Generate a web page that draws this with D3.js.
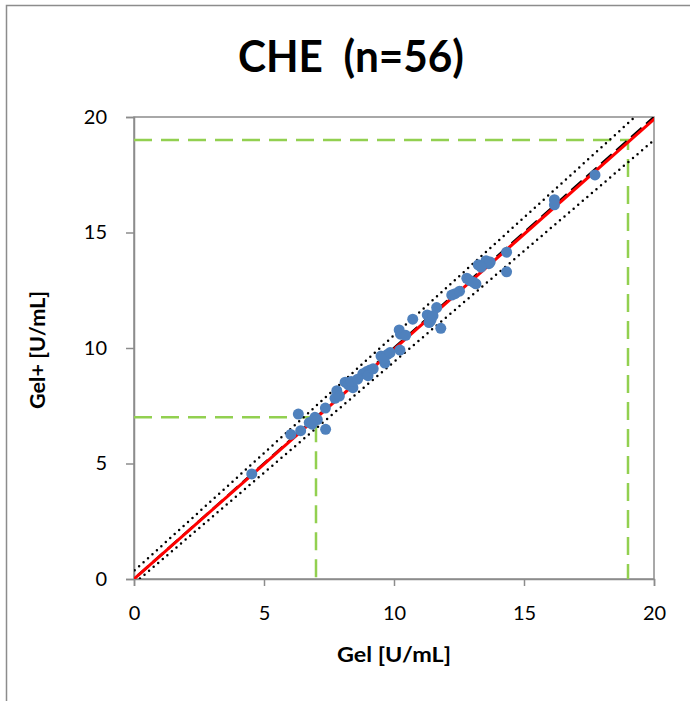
<!DOCTYPE html>
<html>
<head>
<meta charset="utf-8">
<script src="https://cdn.jsdelivr.net/npm/d3@7"></script>
<style>
  body { margin: 0; background: white; }
  text { font-family: Lato, "Open Sans", sans-serif; }
</style>
</head>
<body>
<div id="chart"></div>
<script>
// measured values (Gel vs Gel+)
const gel = [4.53, 6.03, 6.41, 6.32, 6.74, 6.96, 7.05, 7.37, 7.36, 7.73, 7.8, 7.9, 8.12, 8.25,
  8.42, 8.35, 8.8, 8.95, 9.08, 9.0, 9.2, 9.5, 9.65, 9.75, 9.6, 10.2, 10.25, 10.45, 10.23, 10.72,
  11.28, 11.42, 11.35, 11.64, 11.8, 12.22, 12.35, 12.52, 12.8, 12.92, 13.15, 13.05, 13.24, 13.54,
  13.65, 13.7, 14.33, 14.33, 16.17, 16.17, 17.73, 8.6, 9.85, 11.5, 6.85, 13.35];
const gelPlus = [4.55, 6.26, 6.42, 7.14, 6.77, 7.0, 6.9, 6.48, 7.4, 7.82, 8.15, 7.92, 8.52, 8.4,
  8.28, 8.55, 8.88, 8.98, 9.05, 8.8, 9.1, 9.65, 9.35, 9.72, 9.55, 10.78, 10.6, 10.55, 9.91, 11.25,
  11.43, 11.2, 11.1, 11.75, 10.85, 12.29, 12.35, 12.46, 13.02, 12.92, 12.78, 12.85, 13.6, 13.78,
  13.65, 13.72, 14.15, 13.3, 16.42, 16.2, 17.49, 8.65, 9.8, 11.4, 6.7, 13.5];

// fitted / reference lines: y = slope * x + intercept
const lineNames = ['upper', 'lower', 'identity', 'regression'];
const slopes = [1.02, 0.96, 1, 0.995];
const intercepts = [0.35, -0.2, 0, 0];

const refLevels = [7, 19];
const ticks = [0, 5, 10, 15, 20];

const width = 690, height = 701;
const margin = { left: 134, top: 117, right: 36, bottom: 122 };

const svg = d3.select('#chart').append('svg')
  .attr('width', width).attr('height', height);

// outer frame
svg.append('path')
  .attr('d', 'M6.5,701V5.5H690')
  .attr('fill', 'none').attr('stroke', '#8c8c8c').attr('stroke-width', 1.5);

const x = d3.scaleLinear().domain([0, 20]).range([margin.left, width - margin.right]);
const y = d3.scaleLinear().domain([0, 20]).range([height - margin.bottom, margin.top]);

svg.append('text')
  .attr('x', 351).attr('y', 72)
  .attr('text-anchor', 'middle')
  .attr('textLength', 226)
  .attr('lengthAdjust', 'spacingAndGlyphs')
  .style('font-size', '44px').style('font-weight', 'bold')
  .text('CHE\u00a0\u00a0(n=56)');

svg.append('clipPath').attr('id', 'plot')
  .append('rect')
  .attr('x', x(0)).attr('y', y(20))
  .attr('width', x(20) - x(0)).attr('height', y(0) - y(20));

// plot border
svg.append('rect')
  .attr('x', x(0)).attr('y', y(20))
  .attr('width', x(20) - x(0)).attr('height', y(0) - y(20))
  .attr('fill', 'none').attr('stroke', '#8c8c8c').attr('stroke-width', 1.5);

const xAxis = svg.append('g')
  .attr('transform', 'translate(0,' + y(0) + ')')
  .call(d3.axisBottom(x).tickValues(ticks).tickSize(7).tickPadding(20));
const yAxis = svg.append('g')
  .attr('transform', 'translate(' + x(0) + ',0)')
  .call(d3.axisLeft(y).tickValues(ticks).tickSize(8).tickPadding(19));

[xAxis, yAxis].forEach(function (g) {
  g.select('.domain').attr('stroke', '#8c8c8c').attr('stroke-width', 1.5);
  g.selectAll('.tick line').attr('stroke', '#8c8c8c').attr('stroke-width', 1.5);
  g.selectAll('.tick text')
    .attr('fill', '#000')
    .style('font-size', '20px')
    .style('font-family', 'Lato, "Open Sans", sans-serif');
});

svg.append('text')
  .attr('x', 394).attr('y', 662)
  .attr('text-anchor', 'middle')
  .attr('textLength', 114)
  .attr('lengthAdjust', 'spacingAndGlyphs')
  .style('font-size', '21px').style('font-weight', 'bold')
  .text('Gel [U/mL]');

svg.append('text')
  .attr('transform', 'translate(45,350) rotate(-90)')
  .attr('text-anchor', 'middle')
  .attr('textLength', 118)
  .attr('lengthAdjust', 'spacingAndGlyphs')
  .style('font-size', '21px').style('font-weight', 'bold')
  .text('Gel+ [U/mL]');

const plot = svg.append('g').attr('clip-path', 'url(#plot)');

// green guide lines
const green = plot.append('g');
refLevels.forEach(function (v) {
  green.append('path')
    .attr('d', d3.line()([[x(0), y(v)], [x(v), y(v)], [x(v), y(0)]]))
    .attr('fill', 'none')
    .attr('stroke', '#92d050')
    .attr('stroke-width', 2.5)
    .attr('stroke-dasharray', '18,9');
});

const lineStyles = {
  upper: { stroke: '#000', width: 2.5, dash: '0,6', cap: 'round' },
  lower: { stroke: '#000', width: 2.5, dash: '0,6', cap: 'round' },
  identity: { stroke: '#000', width: 2.5, dash: '14,6', cap: 'butt' },
  regression: { stroke: '#ff0000', width: 3, dash: null, cap: 'butt' }
};

const lineData = lineNames.map(function (n, i) {
  return { name: n, slope: slopes[i], intercept: intercepts[i] };
});

plot.selectAll('.fit')
  .data(lineData)
  .enter()
  .append('line')
  .attr('class', 'fit')
  .attr('x1', x(-1)).attr('y1', function (d) { return y(d.slope * -1 + d.intercept); })
  .attr('x2', x(21)).attr('y2', function (d) { return y(d.slope * 21 + d.intercept); })
  .attr('stroke', function (d) { return lineStyles[d.name].stroke; })
  .attr('stroke-width', function (d) { return lineStyles[d.name].width; })
  .attr('stroke-dasharray', function (d) { return lineStyles[d.name].dash; })
  .attr('stroke-linecap', function (d) { return lineStyles[d.name].cap; });

plot.selectAll('circle')
  .data(d3.zip(gel, gelPlus))
  .enter()
  .append('circle')
  .attr('cx', function (d) { return x(d[0]); })
  .attr('cy', function (d) { return y(d[1]); })
  .attr('r', 5.5)
  .attr('fill', '#4f81bd');
</script>
</body>
</html>
